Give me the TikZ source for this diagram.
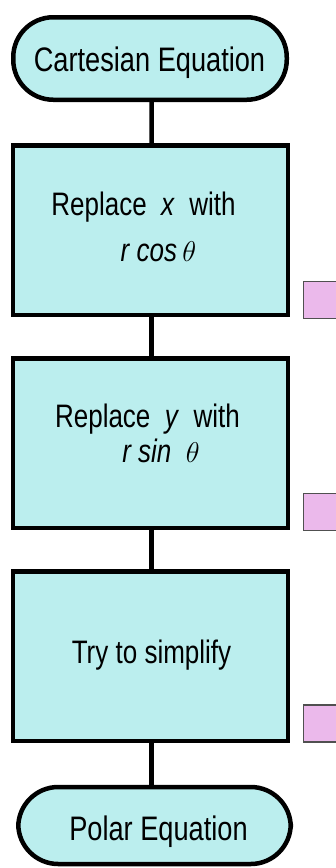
\documentclass[tikz,border=0pt]{standalone}
\usepackage{fontspec}
\setmainfont{Liberation Sans}[FakeStretch=0.8]
\definecolor{boxcyan}{RGB}{187,238,238}
\definecolor{notepink}{RGB}{235,185,235}
\definecolor{noteedge}{RGB}{80,80,80}
\tikzset{
  terminal/.style={draw=black, line width=4.5pt, fill=boxcyan, rounded corners=40pt, inner sep=0pt},
  stepbox/.style={draw=black, line width=4.5pt, fill=boxcyan, inner sep=0pt, minimum width=275pt, minimum height=169.5pt},
  notebox/.style={draw=noteedge, line width=1.5pt, fill=notepink, inner sep=0pt, minimum width=44pt, minimum height=37pt, anchor=north west},
  link/.style={draw=black, line width=4.5pt},
  bigtext/.style={anchor=base, inner sep=0pt, font=\fontsize{34}{40}\selectfont},
  boxtext/.style={anchor=base, inner sep=0pt, font=\fontsize{32.5}{38}\selectfont}
}
\begin{document}
\begin{tikzpicture}[x=1pt,y=-1pt]
\useasboundingbox (0,0) rectangle (336,868);
\clip (0,0) rectangle (336,868);
% nodes
\node[terminal, minimum width=273.5pt, minimum height=82.5pt] (start) at (150,58.5) {};
\node[stepbox] (b1) at (150.25,230) {};
\node[stepbox] (b2) at (150.25,443) {};
\node[stepbox] (b3) at (150.25,656) {};
\node[terminal, minimum width=272.5pt, minimum height=77pt] (stop) at (154.5,825.5) {};
% notes
\node[notebox] (n1) at (302.5,280.5) {};
\node[notebox] (n2) at (302.5,492.5) {};
\node[notebox] (n3) at (302.5,704) {};
% texts
\node[bigtext] (tstart) at (149.5,71) {Cartesian Equation};
\node[boxtext] (t1a) at (143.5,215) {Replace \ \textit{x} \ with};
\node[boxtext] (t1b) at (158.5,261) {\textit{r cos}\,\scalebox{1.15}{$\theta$}};
\node[boxtext] (t2a) at (147.5,427) {Replace \ \textit{y} \ with};
\node[boxtext] (t2b) at (161,462) {\textit{r sin} \ \scalebox{1.15}{$\theta$}};
\node[boxtext] (t3) at (151.5,663) {Try to simplify};
\node[bigtext] (tstop) at (158.5,840) {Polar Equation};
% connectors
\draw[link] ([xshift=1.5pt]start.south) -- ([xshift=1.5pt]b1.north);
\draw[link] ([xshift=1.25pt]b1.south) -- ([xshift=1.25pt]b2.north);
\draw[link] ([xshift=1.25pt]b2.south) -- ([xshift=1.25pt]b3.north);
\draw[link] ([xshift=1.25pt]b3.south) -- ([xshift=1.25pt]b3.south |- stop.north);
\end{tikzpicture}
\end{document}
